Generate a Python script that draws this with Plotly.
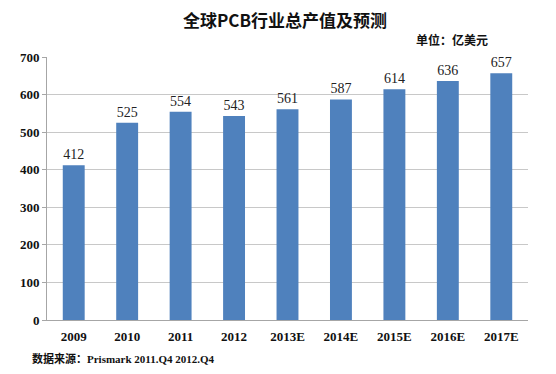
import plotly.graph_objects as go

categories = ["2009", "2010", "2011", "2012", "2013E", "2014E", "2015E", "2016E", "2017E"]
values = [412, 525, 554, 543, 561, 587, 614, 636, 657]
y_ticks = [0, 100, 200, 300, 400, 500, 600, 700]

serif = "Liberation Serif, Times New Roman, serif"
cjk = "Noto Sans CJK SC, sans-serif"

fig = go.Figure(go.Bar(
    x=categories, y=values,
    marker=dict(color="#4F81BD", line=dict(width=0)),
    text=[str(v) for v in values], textposition="outside",
    textfont=dict(family=serif, size=14, color="#222222"),
    cliponaxis=False,
))

fig.update_layout(
    width=548, height=366,
    margin=dict(l=39, r=28, t=49, b=54),
    paper_bgcolor="white", plot_bgcolor="white",
    bargap=0.59,
    showlegend=False,
    xaxis=dict(
        showgrid=False, showline=True, linecolor="#A6A6A6", linewidth=1,
        ticks="", tickfont=dict(family=serif, size=13, color="#111111", weight="bold"),
        ticklabelstandoff=4,
    ),
    yaxis=dict(
        range=[0, 700], tickvals=y_ticks, showgrid=True, gridcolor="#C8C8C8", gridwidth=1,
        showline=True, linecolor="#A6A6A6", linewidth=1, zeroline=False,
        ticks="outside", ticklen=4, tickcolor="#A6A6A6",
        tickfont=dict(family=serif, size=13, color="#111111", weight="bold"),
    ),
    annotations=[
        dict(text="全球PCB行业总产值及预测", xref="paper", yref="paper", x=0.495, y=1.141,
             xanchor="center", yanchor="middle", showarrow=False,
             font=dict(family=cjk, size=17, color="#111111", weight="bold")),
        dict(text="单位：亿美元", xref="paper", yref="paper", x=0.921, y=1.065,
             xanchor="right", yanchor="middle", showarrow=False,
             font=dict(family=cjk, size=12, color="#111111", weight="bold")),
        dict(text="数据来源：<span style='font-family:Liberation Serif'>Prismark 2011.Q4 2012.Q4</span>",
             xref="paper", yref="paper", x=-0.035, y=-0.144,
             xanchor="left", yanchor="middle", showarrow=False,
             font=dict(family=cjk, size=11, color="#111111", weight="bold")),
    ],
)

fig.write_html("out.html")
